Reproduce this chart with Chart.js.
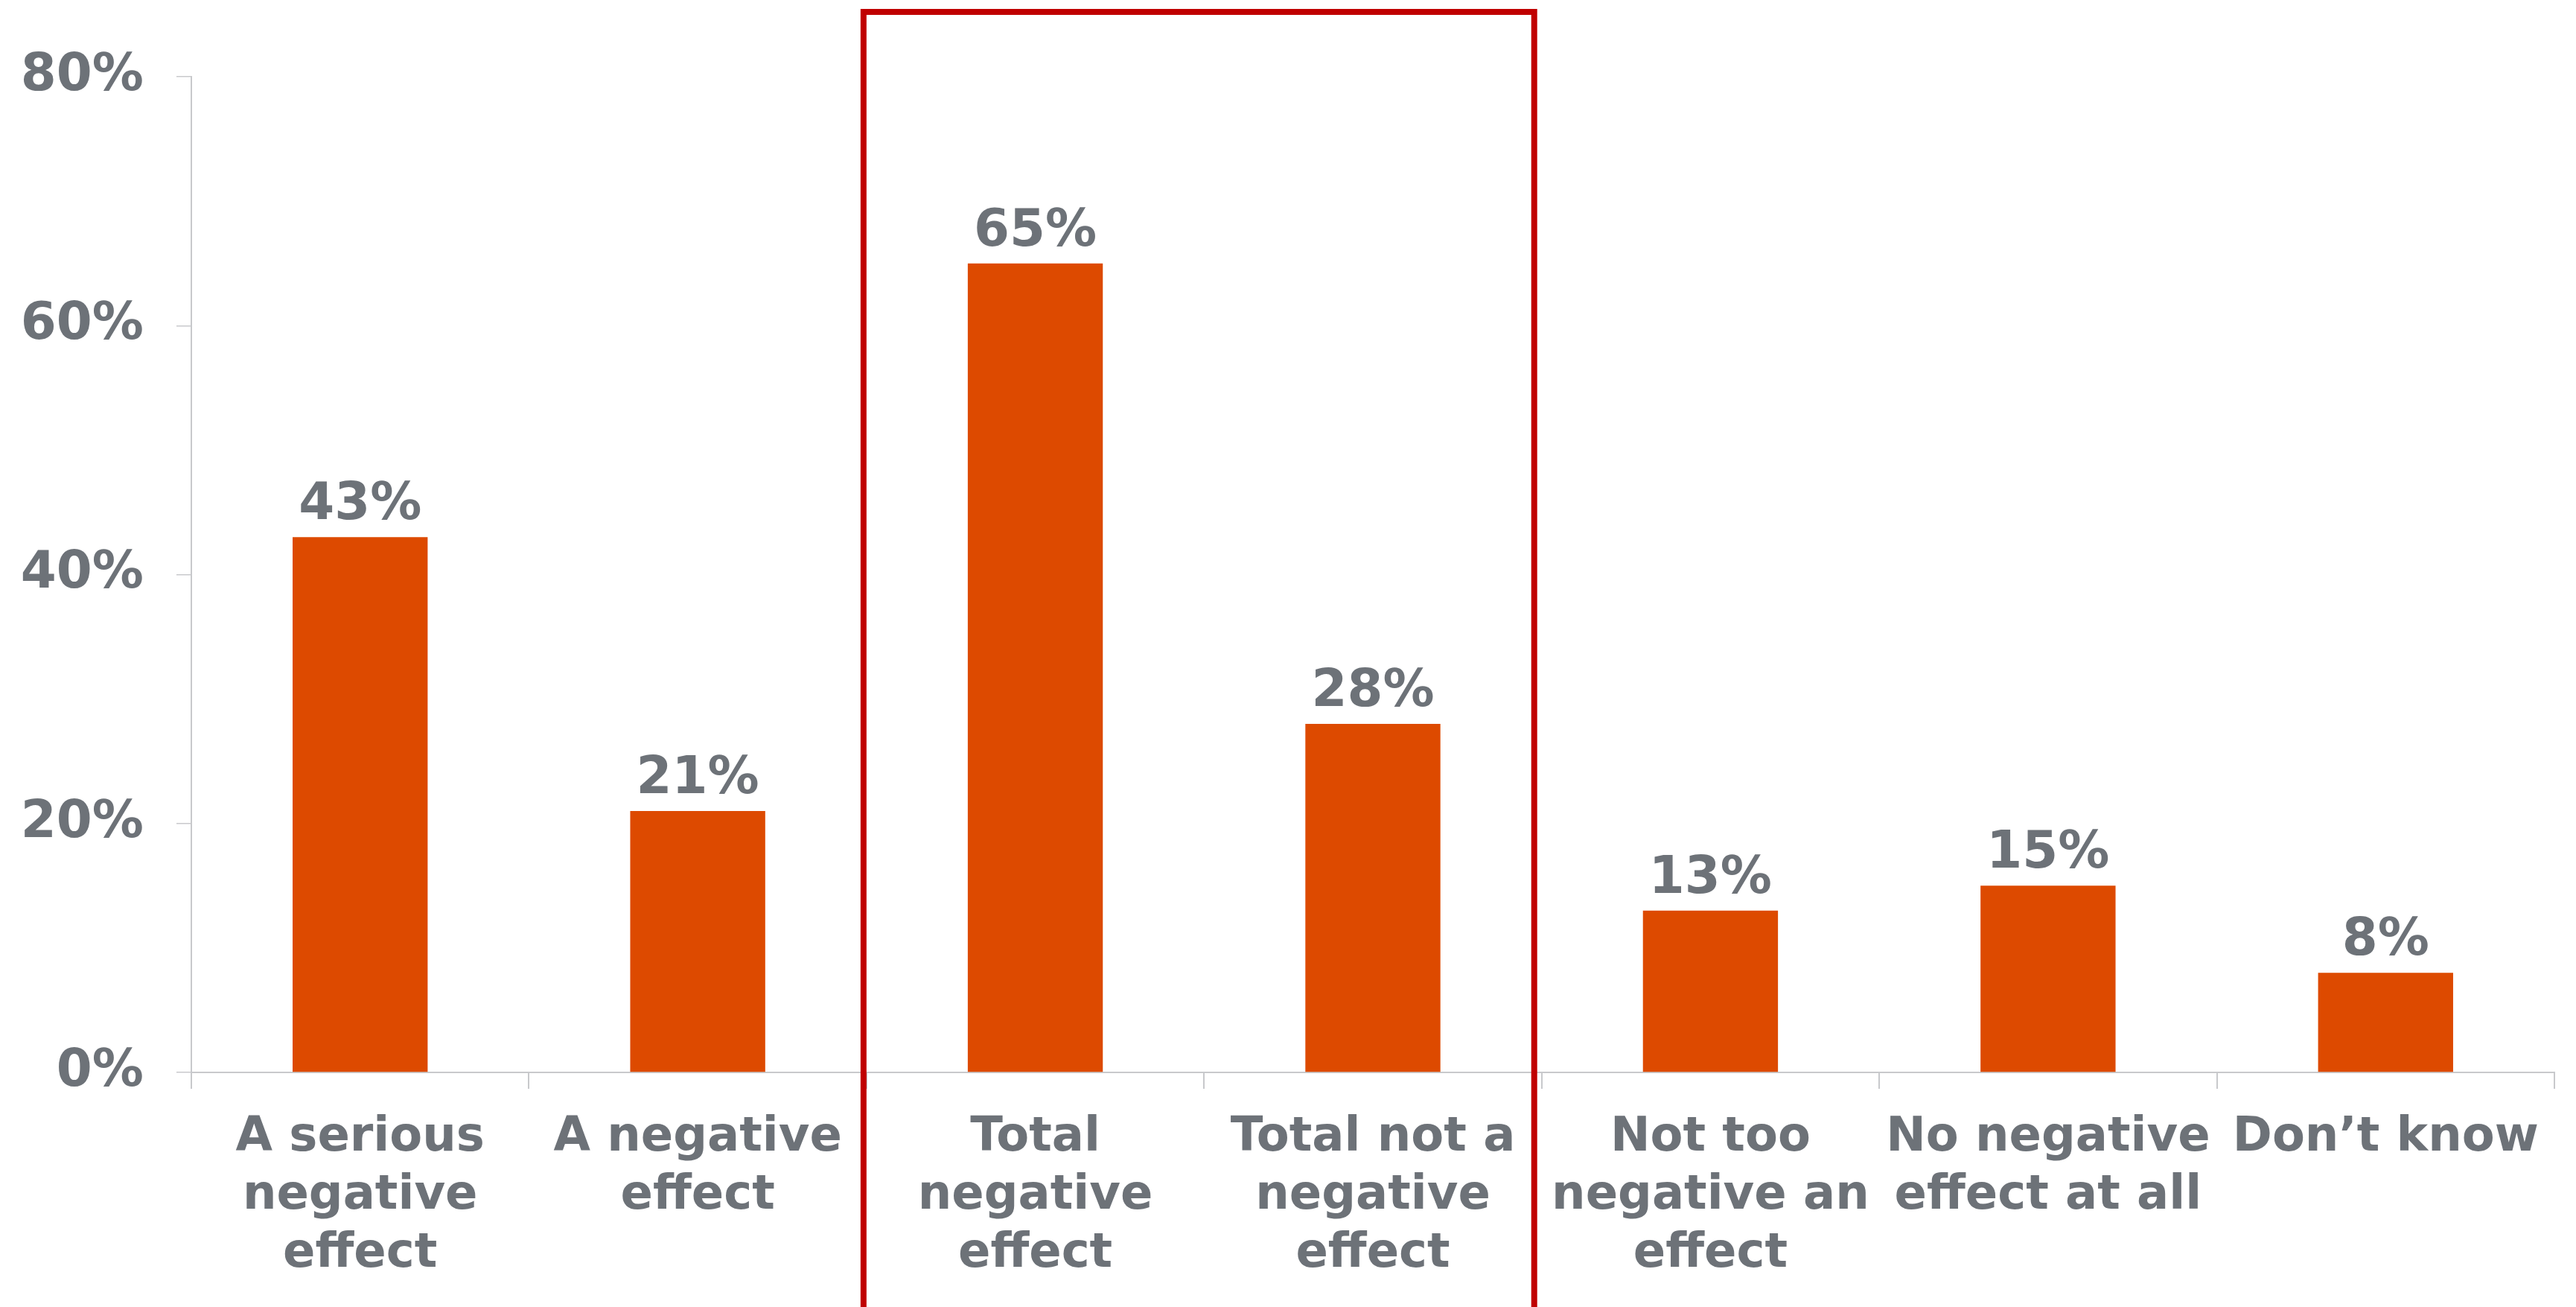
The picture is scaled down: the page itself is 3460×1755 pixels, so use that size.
<!DOCTYPE html>
<html>
<head>
<meta charset="utf-8">
<script src="https://cdn.jsdelivr.net/npm/chart.js@4"></script>
<style>
    html, body { margin: 0; padding: 0; background: #ffffff; }
    #wrap { width: 3460px; height: 1755px; position: relative; }
</style>
</head>
<body>
<div id="wrap"><canvas id="effectChart"></canvas></div>
<script>
// Chart data
const categories = [
    ['A serious', 'negative', 'effect'],
    ['A negative', 'effect'],
    ['Total', 'negative', 'effect'],
    ['Total not a', 'negative', 'effect'],
    ['Not too', 'negative an', 'effect'],
    ['No negative', 'effect at all'],
    ['Don\u2019t know']
];
const shares = [43, 21, 65, 28, 13, 15, 8];
const yTicks = [0, 20, 40, 60, 80];

// Categories framed by the red box
const highlightFirst = 2;
const highlightLast = 3;

const textColor = '#6d7278';
const barColor = '#dd4a00';
const axisColor = '#c8c9cc';
const boxColor = '#c00000';
const fontFamily = '"DejaVu Sans", Verdana, sans-serif';

// Draw value labels above each bar
const valueLabels = {
    id: 'valueLabels',
    afterDatasetsDraw(chart) {
        const ctx = chart.ctx;
        const meta = chart.getDatasetMeta(0);
        ctx.save();
        ctx.font = 'bold 69px ' + fontFamily;
        ctx.fillStyle = textColor;
        ctx.textAlign = 'center';
        ctx.textBaseline = 'alphabetic';
        meta.data.forEach((bar, i) => {
            ctx.fillText(shares[i] + '%', bar.x, bar.y - 24);
        });
        ctx.restore();
    }
};

// Red frame around the "total" columns
const highlightBox = {
    id: 'highlightBox',
    afterDraw(chart) {
        const ctx = chart.ctx;
        const x = chart.scales.x;
        const y = chart.scales.y;
        const half = (x.getPixelForValue(1) - x.getPixelForValue(0)) / 2;
        const left = x.getPixelForValue(highlightFirst) - half - 4;
        const right = x.getPixelForValue(highlightLast) + half - 10;
        const top = y.getPixelForValue(85.2);
        ctx.save();
        ctx.strokeStyle = boxColor;
        ctx.lineWidth = 8;
        ctx.beginPath();
        ctx.moveTo(left, chart.height + 10);
        ctx.lineTo(left, top);
        ctx.lineTo(right, top);
        ctx.lineTo(right, chart.height + 10);
        ctx.stroke();
        ctx.restore();
    }
};

const chartCtx = document.getElementById('effectChart').getContext('2d');
new Chart(chartCtx, {
    type: 'bar',
    data: {
        labels: categories,
        datasets: [{
            data: shares,
            backgroundColor: barColor,
            borderWidth: 0,
            barPercentage: 0.4,
            categoryPercentage: 1
        }]
    },
    options: {
        responsive: true,
        maintainAspectRatio: false,
        animation: false,
        layout: {
            padding: { top: 103, right: 29, bottom: 0, left: 0 }
        },
        plugins: {
            legend: { display: false },
            tooltip: { enabled: false }
        },
        scales: {
            x: {
                offset: true,
                grid: {
                    offset: true,
                    drawOnChartArea: false,
                    tickLength: 22,
                    color: axisColor,
                    lineWidth: 2
                },
                border: { color: axisColor, width: 2 },
                ticks: {
                    color: textColor,
                    font: { family: fontFamily, size: 64, weight: 'bold', lineHeight: 1.22 },
                    padding: 27,
                    maxRotation: 0,
                    autoSkip: false
                },
                afterFit(scale) { scale.height = 315; }
            },
            y: {
                min: 0,
                max: 80,
                afterBuildTicks(scale) {
                    scale.ticks = yTicks.map(v => ({ value: v }));
                },
                grid: {
                    drawOnChartArea: false,
                    tickLength: 20,
                    color: axisColor,
                    lineWidth: 1.5
                },
                border: { color: axisColor, width: 2 },
                ticks: {
                    color: textColor,
                    font: { family: fontFamily, size: 69, weight: 'bold' },
                    padding: 44,
                    callback: function(value) {
                        return value + '%';
                    }
                },
                afterFit(scale) { scale.width = 257; }
            }
        }
    },
    plugins: [valueLabels, highlightBox]
});
</script>
</body>
</html>
